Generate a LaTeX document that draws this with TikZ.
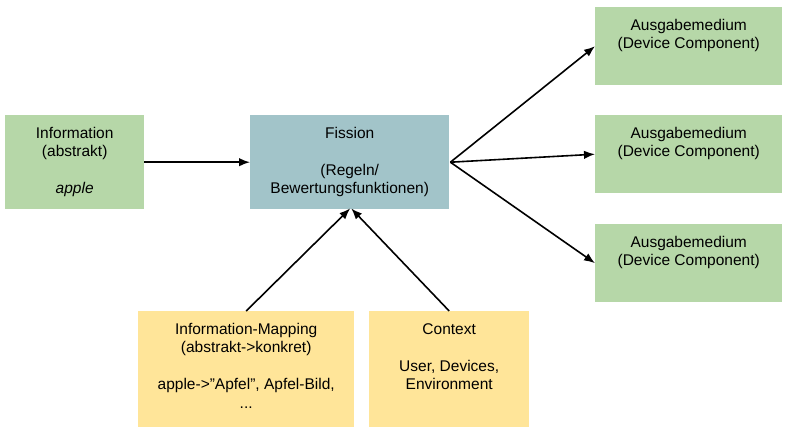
\documentclass[tikz,border=0pt]{standalone}
\usepackage{fontspec}
\setmainfont{Liberation Sans}
\usetikzlibrary{arrows.meta}
\definecolor{boxgreen}{HTML}{B6D7A8}
\definecolor{boxblue}{HTML}{A2C4C9}
\definecolor{boxyellow}{HTML}{FFE599}
\tikzset{
  box/.style={rectangle, inner sep=0pt, anchor=north west, draw=none, align=center,
    font=\fontsize{15.5}{18.5}\selectfont},
  boxtext/.style={inner sep=0pt, anchor=north, align=center, yshift=-12pt,
    font=\fontsize{15.5}{18.5}\selectfont},
  conn/.style={line width=1.6pt, -{Latex[length=11pt,width=8.5pt]}},
}
\begin{document}
\begin{tikzpicture}[x=1pt,y=-1pt]
\useasboundingbox[fill=white] (0,0) rectangle (790,437);
% left input
\node[box, fill=boxgreen, minimum width=139pt, minimum height=94pt] (info) at (5,115)
  {Information\\(abstrakt)\\[18.5pt]\textit{apple}};
% center
\node[box, fill=boxblue, minimum width=199pt, minimum height=94pt] (fission) at (250,115)
  {Fission\\[18.5pt](Regeln/\\Bewertungsfunktionen)};
% outputs
\node[box, fill=boxgreen, minimum width=187pt, minimum height=78pt] (out1) at (595,7) {};
\node[box, fill=boxgreen, minimum width=187pt, minimum height=78pt] (out2) at (595,115) {};
\node[box, fill=boxgreen, minimum width=187pt, minimum height=78pt] (out3) at (595,224) {};
\node[boxtext] (out1t) at (out1.north) {Ausgabemedium\\(Device Component)};
\node[boxtext] (out2t) at (out2.north) {Ausgabemedium\\(Device Component)};
\node[boxtext] (out3t) at (out3.north) {Ausgabemedium\\(Device Component)};
% bottom inputs
\node[box, fill=boxyellow, minimum width=216pt, minimum height=116pt] (map) at (138,311) {};
\node[box, fill=boxyellow, minimum width=160pt, minimum height=116pt] (ctx) at (369,311) {};
\node[boxtext] (mapt) at (map.north) {Information-Mapping\\(abstrakt->konkret)\\[18.5pt]apple->”Apfel”, Apfel-Bild,\\...};
\node[boxtext] (ctxt) at (ctx.north) {Context\\[18.5pt]User, Devices,\\Environment};
% connectors
\draw[conn] (info.east) -- (fission.west);
\draw[conn] ([xshift=1pt]fission.east) -- (out1.west);
\draw[conn] ([xshift=1pt]fission.east) -- (out2.west);
\draw[conn] ([xshift=1pt]fission.east) -- (out3.west);
\draw[conn] (map.north) -- ([xshift=0.5pt,yshift=1pt]fission.south);
\draw[conn] (ctx.north) -- ([xshift=1.5pt,yshift=1pt]fission.south);
\end{tikzpicture}
\end{document}
